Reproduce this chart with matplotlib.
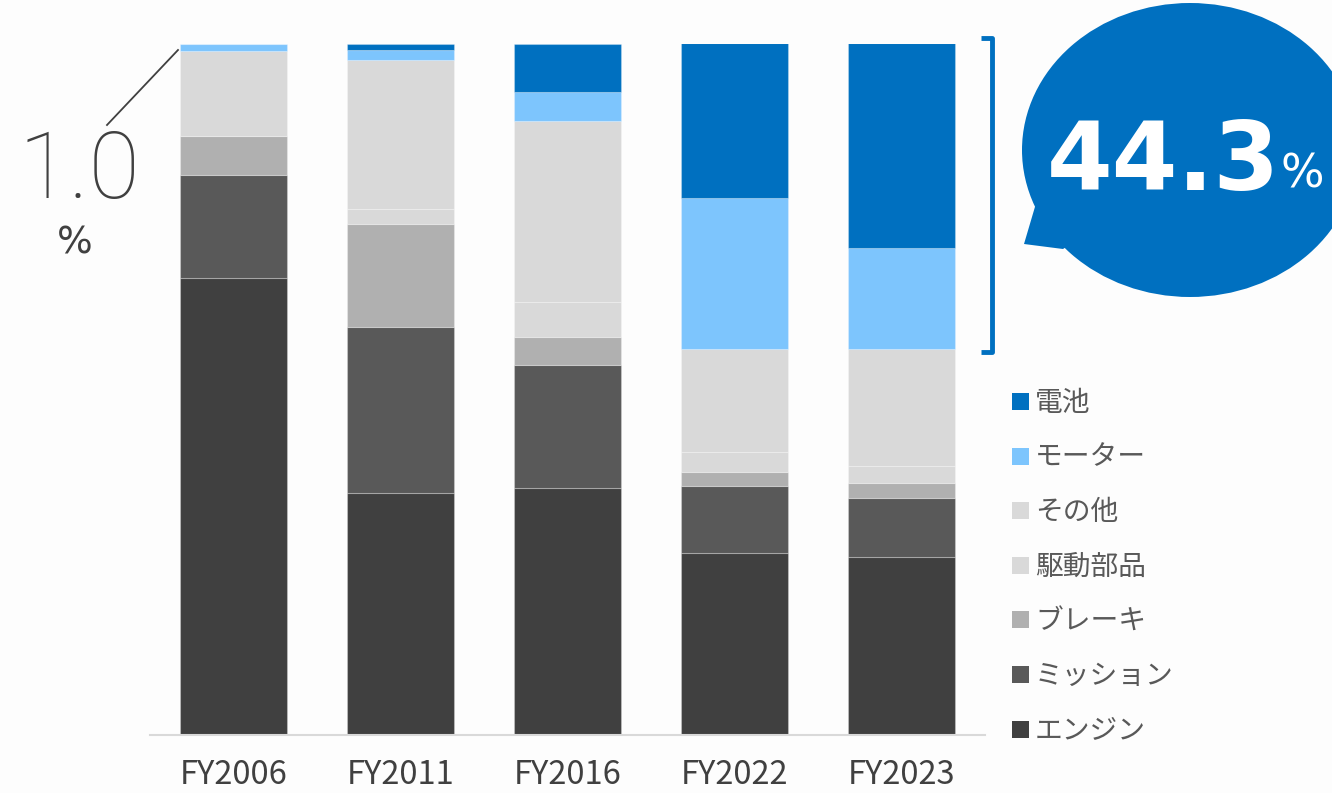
import matplotlib
matplotlib.use("Agg")
import matplotlib.pyplot as plt
from matplotlib.patches import Ellipse, Polygon, Rectangle
import numpy as np

plt.rcParams['font.family'] = ['Noto Sans CJK JP', 'DejaVu Sans']

categories = ["FY2006", "FY2011", "FY2016", "FY2022", "FY2023"]
# stacking order bottom -> top
series_names = ["エンジン", "ミッション", "ブレーキ", "駆動部品", "その他", "モーター", "電池"]
engine  = [66.2, 35.0, 35.8, 26.4, 25.8]
mission = [14.8, 24.0, 17.8, 9.6, 8.5]
brake   = [5.7, 14.9, 4.0, 2.1, 2.1]
drive   = [0.0, 2.2, 5.1, 2.9, 2.6]
other   = [12.3, 21.6, 26.1, 14.8, 16.8]
motor   = [1.0, 1.4, 4.3, 21.9, 14.7]
battery = [0.0, 0.9, 6.9, 22.4, 29.6]
series_values = [engine, mission, brake, drive, other, motor, battery]
colors = ["#404040", "#595959", "#B0B0B0", "#D9D9D9", "#D9D9D9", "#7DC5FD", "#0070C0"]

callout_left = "1.0"
callout_right = "44.3"

W, H = 1332, 793
fig = plt.figure(figsize=(W / 100, H / 100), dpi=100)
bg = "#FDFDFD"
fig.patch.set_facecolor(bg)

ax = fig.add_axes([150 / W, (H - 735) / H, 835 / W, 691 / H])
ax.set_facecolor(bg)
x = np.arange(len(categories))
bottom = np.zeros(len(categories))
for name, vals, c in zip(series_names, series_values, colors):
    v = np.array(vals)
    ax.bar(x, v, bottom=bottom, width=0.64, color=c, label=name,
           edgecolor=(1, 1, 1, 0.25), linewidth=0.8)
    bottom += v
ax.set_xlim(-0.5, 4.5)
ax.set_ylim(0, 100)
for s in ["top", "right", "left"]:
    ax.spines[s].set_visible(False)
ax.spines["bottom"].set_color("#D9D9D9")
ax.spines["bottom"].set_linewidth(1.5)
ax.set_yticks([])
ax.set_xticks(x)
ax.set_xticklabels(categories, fontsize=23.5, color="#404040")
ax.tick_params(axis="x", length=0, pad=17)

# overlay axes in pixel coordinates
ov = fig.add_axes([0, 0, 1, 1], facecolor="none")
ov.set_xlim(0, W)
ov.set_ylim(H, 0)
ov.axis("off")

# legend (manual, top to bottom)
leg_order = list(range(len(series_names)))[::-1]
y0, dy = 401.5, 54.6
for i, k in enumerate(leg_order):
    yc = y0 + i * dy
    ov.add_patch(Rectangle((1012, yc - 8.5), 17, 17, facecolor=colors[k], edgecolor="none"))
    ov.text(1035, yc - 2, series_names[k], fontsize=20, color="#595959",
            va="center_baseline", ha="left")

# left callout
ov.plot([107, 178], [125, 50], color="#404040", lw=1.3)
ov.text(79, 198, callout_left, fontsize=67, color="#404040", ha="center",
        va="baseline", family=["Roboto", "DejaVu Sans"], fontweight="light")
ov.text(75, 253, "%", fontsize=27, color="#404040", ha="center", va="baseline",
        family="DejaVu Sans")

# bracket
blue = "#0070C0"
ov.plot([981, 992, 992, 981], [38, 38, 352, 352], color=blue, lw=3.5,
        solid_joinstyle="round", solid_capstyle="butt")

# bubble
ov.add_patch(Ellipse((1190, 150), 336, 294, facecolor=blue, edgecolor="none"))
ov.add_patch(Polygon([(1037, 200), (1024, 244), (1063, 249), (1110, 220)],
                     closed=True, facecolor=blue, edgecolor="none"))
ov.text(1163, 190, callout_right, fontsize=68, color="white", fontweight="bold",
        ha="center", va="baseline", family="DejaVu Sans")
ov.text(1302, 188, "%", fontsize=33, color="white", ha="center", va="baseline",
        family="DejaVu Sans")

fig.savefig("out.png", dpi=100, facecolor=bg)
